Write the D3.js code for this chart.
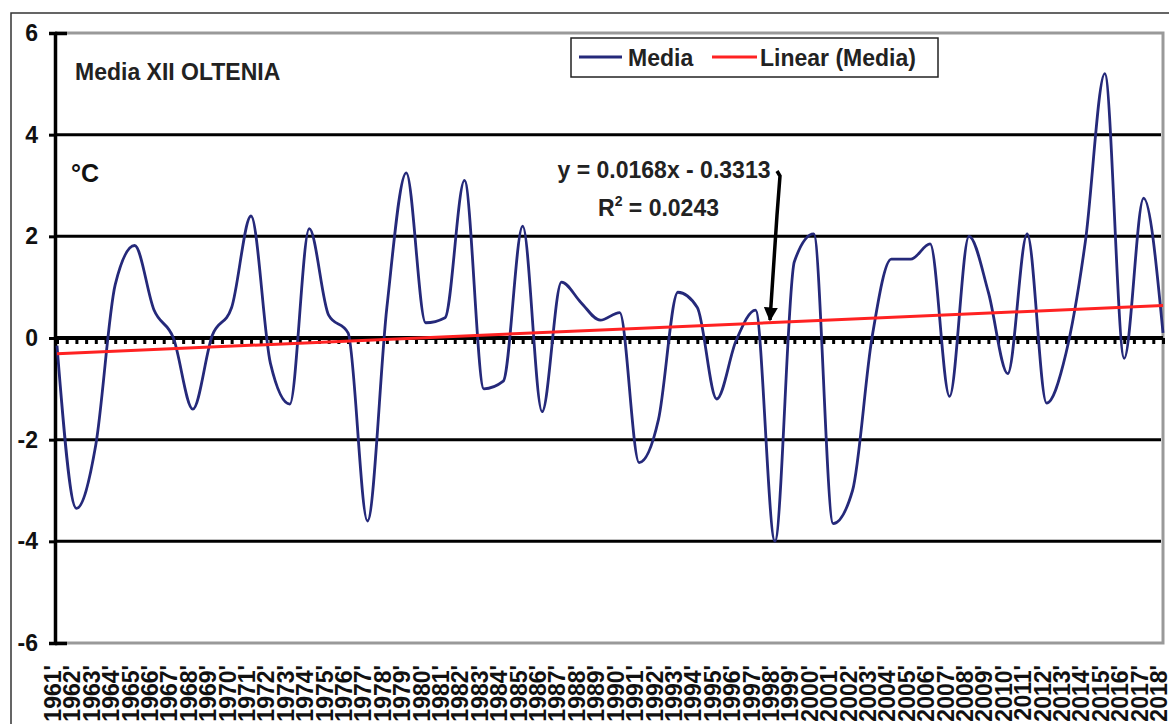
<!DOCTYPE html>
<html>
<head>
<meta charset="utf-8">
<script src="https://cdn.jsdelivr.net/npm/d3@7"></script>
<style>
  body { margin: 0; background: #fff; }
  text { font-family: Arial, "Liberation Sans", sans-serif; font-weight: bold; }
</style>
</head>
<body>
<svg class="chart"></svg>
<script>
// December mean temperature, Oltenia, 1961-2018
var years = d3.range(1961, 2019);
var media = [
  -0.15, -3.35, -2.1, 1.05, 1.82, 0.55, 0.0, -1.4, 0.05, 0.6,
  2.4, -0.5, -1.3, 2.15, 0.45, 0.1, -3.6, 0.6, 3.25, 0.3,
  0.4, 3.1, -1.0, -0.85, 2.2, -1.45, 1.1, 0.7, 0.35, 0.5,
  -2.45, -1.6, 0.9, 0.6, -1.2, -0.05, 0.55, -4.0, 1.5, 2.05,
  -3.65, -3.0, 0.0, 1.55, 1.55, 1.85, -1.15, 2.0, 0.9, -0.7,
  2.05, -1.28, -0.3, 1.9, 5.2, -0.4, 2.75, 0.1
];
// linear trend, first and last year
var trendEnds = [-0.31, 0.64];
var yTicks = [-6, -4, -2, 0, 2, 4, 6];
var seriesNames = ["Media", "Linear (Media)"];
var eqText = "y = 0.0168x - 0.3313";
var r2Text = "0.0243";

var width = 1169;
var height = 724;
var pLeft = 55, pRight = 1163, pTop = 33, pBottom = 643;
var fs = 23;

var chart = d3.select(".chart").attr("width", width).attr("height", height);

var x = d3.scaleLinear().domain([0, years.length - 1]).range([pLeft + 2, pRight]);
var y = d3.scaleLinear().domain([-6, 6]).range([pBottom, pTop]);

// outer chart border
chart.append("path")
  .attr("d", "M11," + height + "V13H" + width)
  .attr("fill", "none").attr("stroke", "#333").attr("stroke-width", 1.5);

// plot area border
chart.append("path")
  .attr("d", "M" + pLeft + "," + pTop + "H" + pRight + "V" + pBottom + "H" + pLeft)
  .attr("fill", "none").attr("stroke", "#999").attr("stroke-width", 3);

// gridlines
chart.append("g").selectAll("line")
  .data(yTicks.filter(function(d) { return d != 0 && Math.abs(d) != 6; }))
  .enter().append("line")
  .attr("x1", pLeft).attr("x2", pRight - 2)
  .attr("y1", function(d) { return y(d); }).attr("y2", function(d) { return y(d); })
  .attr("stroke", "#000").attr("stroke-width", 3);

// y axis
var yAxis = d3.axisLeft(y).tickValues(yTicks).tickSize(6).tickPadding(11)
  .tickFormat(function(d) { return String(d); });
var gy = chart.append("g").attr("transform", "translate(" + pLeft + ",0)").call(yAxis);
gy.select(".domain").attr("stroke", "#000").attr("stroke-width", 3.5);
gy.selectAll(".tick line").attr("stroke", "#000").attr("stroke-width", 3);
gy.selectAll(".tick text").attr("font-size", fs).attr("font-weight", "bold")
  .attr("fill", "#111").attr("font-family", "Arial, 'Liberation Sans', sans-serif");
gy.selectAll(".tick").filter(function(d) { return Math.abs(d) == 6; })
  .append("line").attr("x1", 0).attr("x2", 12).attr("stroke", "#000").attr("stroke-width", 3.5);

// x axis at zero, ticks every half category
var halfTicks = d3.range(0, years.length - 0.5, 0.5);
var xAxis = d3.axisBottom(x).tickValues(halfTicks).tickSize(6).tickFormat("");
var gx = chart.append("g").attr("transform", "translate(0," + y(0) + ")").call(xAxis);
gx.select(".domain").attr("stroke", "#000").attr("stroke-width", 4).attr("d", "M" + pLeft + ",0H" + pRight);
gx.selectAll(".tick line").attr("stroke", "#000").attr("stroke-width", 3);

// category labels
chart.append("g").selectAll("text")
  .data(years).enter().append("text")
  .attr("transform", function(d, i) { return "translate(" + (x(i) + 4) + ",665) rotate(-90)"; })
  .attr("text-anchor", "end")
  .attr("font-size", fs)
  .attr("fill", "#111")
  .text(function(d) { return d + "'"; });

// series
var line = d3.line()
  .x(function(d, i) { return x(i); })
  .y(function(d) { return y(d); })
  .curve(d3.curveMonotoneX);

chart.append("path").datum(media)
  .attr("d", line)
  .attr("fill", "none").attr("stroke", "#25297a").attr("stroke-width", 2.8);

chart.append("line")
  .attr("x1", x(0)).attr("y1", y(trendEnds[0]))
  .attr("x2", x(years.length - 1)).attr("y2", y(trendEnds[1]))
  .attr("stroke", "#ff2222").attr("stroke-width", 3);

// titles
chart.append("text").attr("x", 75).attr("y", 80).attr("font-size", fs)
  .attr("fill", "#222").text("Media XII OLTENIA");
chart.append("text").attr("x", 71).attr("y", 182).attr("font-size", 25)
  .attr("fill", "#111").text("°C");

// legend
var lg = chart.append("g");
lg.append("rect").attr("x", 571).attr("y", 38).attr("width", 367).attr("height", 39)
  .attr("fill", "#fff").attr("stroke", "#222").attr("stroke-width", 1.5);
lg.append("line").attr("x1", 579).attr("x2", 622).attr("y1", 57).attr("y2", 57)
  .attr("stroke", "#25297a").attr("stroke-width", 3);
lg.append("text").attr("x", 628).attr("y", 66).attr("font-size", fs).attr("fill", "#222").text(seriesNames[0]);
lg.append("line").attr("x1", 712).attr("x2", 757).attr("y1", 57).attr("y2", 57)
  .attr("stroke", "#ff2222").attr("stroke-width", 3);
lg.append("text").attr("x", 760).attr("y", 66).attr("font-size", fs).attr("fill", "#222").text(seriesNames[1]);

// trend equation and arrow
chart.append("text").attr("x", 664).attr("y", 178).attr("text-anchor", "middle")
  .attr("font-size", fs).attr("fill", "#222").text(eqText);
var r2 = chart.append("text").attr("x", 598).attr("y", 216).attr("font-size", fs).attr("fill", "#222");
r2.append("tspan").text("R");
r2.append("tspan").attr("dy", -10).attr("font-size", 14).text("2");
r2.append("tspan").attr("dy", 10).text(" = " + r2Text);

chart.append("defs").append("marker")
  .attr("id", "arrow").attr("viewBox", "0 0 10 10").attr("refX", 9).attr("refY", 5)
  .attr("markerWidth", 4).attr("markerHeight", 4).attr("orient", "auto")
  .append("path").attr("d", "M0,0L10,5L0,10z").attr("fill", "#000");
chart.append("path")
  .attr("d", "M777,171L780,176L777,215L770,320")
  .attr("fill", "none").attr("stroke", "#000").attr("stroke-width", 3.5)
  .attr("marker-end", "url(#arrow)");
</script>
</body>
</html>
